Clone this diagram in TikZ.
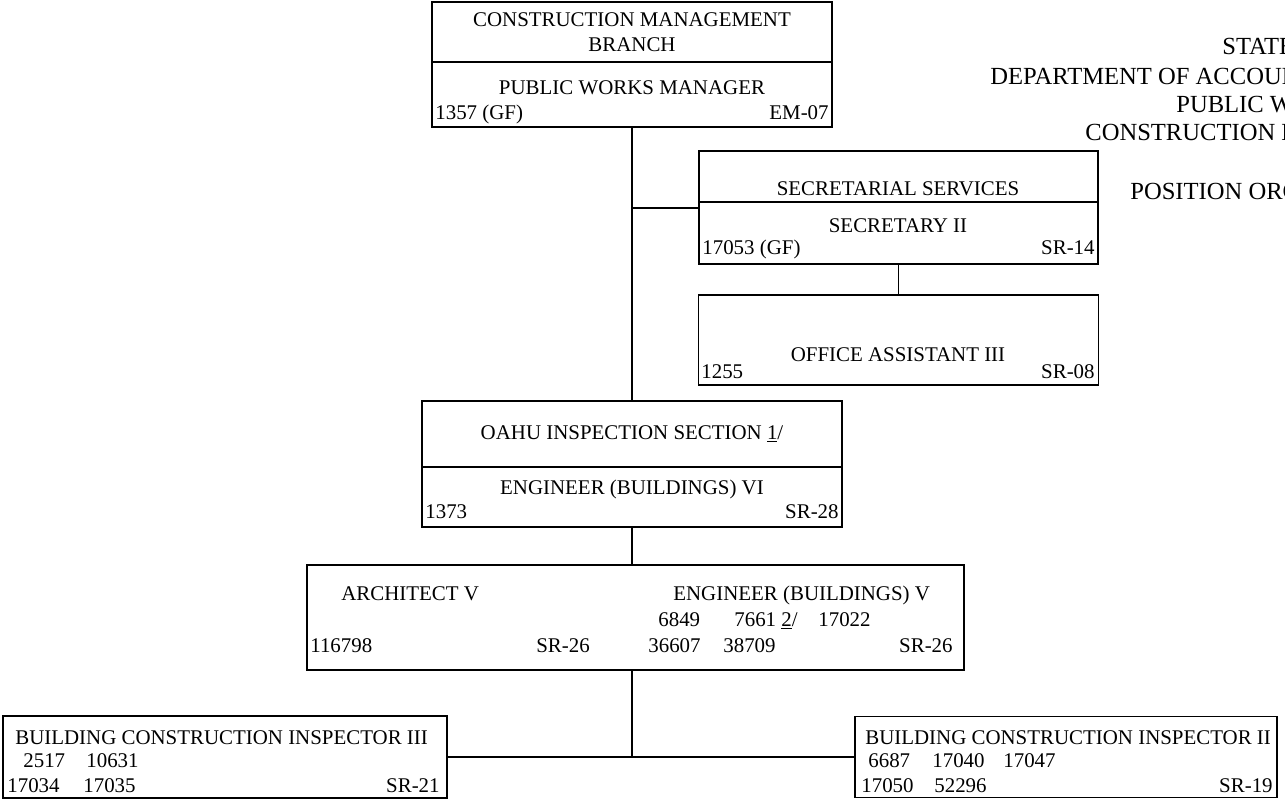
\documentclass[tikz,border=0pt]{standalone}
\usepackage{fontspec}
\setmainfont{Liberation Serif}
\usetikzlibrary{positioning}
\newcommand{\boxfont}{\fontsize{11.9}{14}\selectfont}
\newcommand{\headfont}{\fontsize{14}{16}\selectfont}
\tikzset{
  box/.style={draw, line width=0.9pt, inner sep=0pt, outer sep=0pt}, % outlined position box
  lbl/.style={inner sep=0pt, font=\boxfont, anchor=base}, % text inside the boxes
  ttl/.style={inner sep=0pt, anchor=base west, font=\headfont}, % chart heading
  link/.style={line width=0.9pt}, % reporting lines
}

\begin{document}
\begin{tikzpicture}[x=0.02cm, y=-0.02cm]
    \useasboundingbox (0,0) rectangle (1285,800);

    % branch head
    \node[box, minimum width=8cm, minimum height=1.2cm, font=\boxfont, align=center] (mgrhead) at (632,32) {CONSTRUCTION MANAGEMENT\\BRANCH};
    \node[box, minimum width=8cm, minimum height=1.3cm, below=0pt of mgrhead] (mgrbody) {};
    \node[lbl] (mgrtitle) at (632,95) {PUBLIC WORKS MANAGER};
    \node[lbl, anchor=base west] (mgrnum) at (435,120) {1357 (GF)};
    \node[lbl, anchor=base east] (mgrsr) at (829,120) {EM-07};

    % secretarial services
    \node[box, minimum width=7.98cm, minimum height=1.02cm] (sechead) at (898.5,176.5) {};
    \node[box, minimum width=7.98cm, minimum height=1.24cm, below=0pt of sechead] (secbody) {};
    \node[lbl] (secunit) at (898,196) {SECRETARIAL SERVICES};
    \node[lbl] (sectitle) at (898,233) {SECRETARY II};
    \node[lbl, anchor=base west] (secnum) at (702,255) {17053 (GF)};
    \node[lbl, anchor=base east] (secsr) at (1095,255) {SR-14};

    \node[box, minimum width=8cm, minimum height=1.8cm] (office) at (898.5,340) {};
    \node[lbl] (offtitle) at (898,362) {OFFICE ASSISTANT III};
    \node[lbl, anchor=base west] (offnum) at (701,379) {1255};
    \node[lbl, anchor=base east] (offsr) at (1095,379) {SR-08};

    % inspection section
    \node[box, minimum width=8.4cm, minimum height=1.32cm, font=\boxfont] (oahuhead) at (632,434) {OAHU INSPECTION SECTION \underline{1}/};
    \node[box, minimum width=8.4cm, minimum height=1.2cm, below=0pt of oahuhead] (oahubody) {};
    \node[lbl] (oahutitle) at (632,495) {ENGINEER (BUILDINGS) VI};
    \node[lbl, anchor=base west] (oahunum) at (425,519) {1373};
    \node[lbl, anchor=base east] (oahusr) at (839,519) {SR-28};

    \node[box, minimum width=13.14cm, minimum height=2.1cm] (arch) at (635.5,617.5) {};
    \node[lbl, anchor=base west] (archtitle) at (341,600) {ARCHITECT V};
    \node[lbl, anchor=base west] (engtitle) at (673,600) {ENGINEER (BUILDINGS) V};
    \node[lbl, anchor=base west] (engnuma) at (658,626) {6849};
    \node[lbl, anchor=base west] (engnumb) at (734,626) {7661 \underline{2}/};
    \node[lbl, anchor=base west] (engnumc) at (818,626) {17022};
    \node[lbl, anchor=base west] (archnum) at (310,652) {116798};
    \node[lbl, anchor=base west] (archsr) at (536,652) {SR-26};
    \node[lbl, anchor=base west] (engnumd) at (648,652) {36607};
    \node[lbl, anchor=base west] (engnume) at (723,652) {38709};
    \node[lbl, anchor=base east] (engsr) at (953,652) {SR-26};

    % inspectors
    \node[box, minimum width=8.88cm, minimum height=1.64cm] (bcithree) at (225,757) {};
    \node[lbl, anchor=base west] (bcithreetitle) at (15,744) {BUILDING CONSTRUCTION INSPECTOR III};
    \node[lbl, anchor=base west] (bcithreea) at (23,767) {2517};
    \node[lbl, anchor=base west] (bcithreeb) at (86,767) {10631};
    \node[lbl, anchor=base west] (bcithreec) at (7,792) {17034};
    \node[lbl, anchor=base west] (bcithreed) at (83,792) {17035};
    \node[lbl, anchor=base east] (bcithreesr) at (440,792) {SR-21};

    \node[box, minimum width=8.44cm, minimum height=1.62cm] (bcitwo) at (1066,757) {};
    \node[lbl, anchor=base west] (bcitwotitle) at (865,744) {BUILDING CONSTRUCTION INSPECTOR II};
    \node[lbl, anchor=base west] (bcitwoa) at (868,767) {6687};
    \node[lbl, anchor=base west] (bcitwob) at (932,767) {17040};
    \node[lbl, anchor=base west] (bcitwoc) at (1003,767) {17047};
    \node[lbl, anchor=base west] (bcitwod) at (861,792) {17050};
    \node[lbl, anchor=base west] (bcitwoe) at (934,792) {52296};
    \node[lbl, anchor=base east] (bcitwosr) at (1273,792) {SR-19};

    % heading, cut off at the right edge
    \node[ttl] (hstate) at (1222,55) {STATE};
    \node[ttl] (hdept) at (990,85) {DEPARTMENT OF ACCOUN};
    \node[ttl] (hdiv) at (1176,113) {PUBLIC W};
    \node[ttl] (hbranch) at (1085,141) {CONSTRUCTION M};
    \node[ttl] (hchart) at (1130,200) {POSITION ORG};

    % reporting lines
    \coordinate (secjoin) at (632,208);
    \coordinate (fork) at (632,757);
    \draw[link] (mgrbody) -- (oahuhead);
    \draw[link] (secjoin) -- (secjoin -| secbody.west);
    \draw[link] (secbody) -- (office);
    \draw[link] (oahubody) -- (oahubody |- arch.north);
    \draw[link] (fork |- arch.south) -- (fork);
    \draw[link] (bcithree) -- (bcitwo);
\end{tikzpicture}
\end{document}
